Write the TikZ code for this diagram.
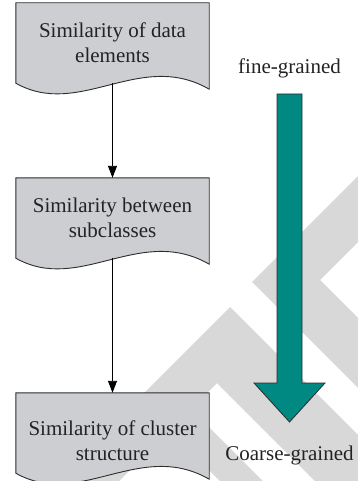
\documentclass[tikz,border=0pt]{standalone}
\usepackage{fontspec}
\setmainfont{Liberation Serif}
\usetikzlibrary{arrows.meta,backgrounds}

\definecolor{boxgray}{RGB}{205,206,210}
\definecolor{arrowteal}{RGB}{0,136,130}
\definecolor{markgray}{RGB}{216,216,216}
\definecolor{edgegray}{RGB}{45,45,45}
\definecolor{textgray}{RGB}{35,35,35}

\tikzset{
  docbox/.style={minimum width=193pt, minimum height=80pt, inner sep=0pt, align=center,
    text=textgray, font=\fontsize{21}{25}\selectfont},
  docline/.style={draw=edgegray, fill=boxgray, line width=0.9pt},
  lbl/.style={inner sep=0pt, text=textgray, font=\fontsize{21}{25}\selectfont},
  flow/.style={line width=0.9pt, -{Triangle[length=12pt,width=9pt]}},
}

% document shape with a wavy bottom, drawn round a node (optional lift)
\newcommand{\docshape}[2][0pt]{%
  \filldraw[docline] ([yshift=#1]#2.south west) -- ([yshift=#1]#2.north west) -- ([yshift=#1]#2.north east)
    -- ([yshift=#1-6pt]#2.south east)
    .. controls ([shift={(124pt,34pt+#1)}]#2.south west) and ([shift={(64pt,-36pt+#1)}]#2.south west)
    .. ([yshift=#1]#2.south west) -- cycle;}

\begin{document}
\begin{tikzpicture}[x=1pt,y=-1pt]
\useasboundingbox (0,0) rectangle (358,481);

\node[docbox] (elem) at (112.5,43) {Similarity of data\\elements};
\node[docbox] (subc) at (112.5,218) {Similarity between\\subclasses};
\node[docbox] (clus) at (112.5,441) {Similarity of cluster\\structure};

\node[lbl] (fine) at (289.5,68) {fine-grained};
\node[lbl] (coarse) at (289.5,455) {Coarse-grained};

\begin{scope}[on background layer]
  % watermark
  \clip (0,0) rectangle (358,481);
  \fill[markgray] (380,154) -- (252,282) -- (380,410) -- (380,340) -- (320,280) -- (380,220) -- cycle;
  \fill[markgray] (37,500) -- (230,307) -- (423,500) -- (334,500) -- (217,383) -- (100,500) -- cycle;
  \fill[markgray] (190,408) -- (320,538) -- (320,581) -- (190,451) -- cycle;
  \docshape{elem}
  \docshape{subc}
  \docshape[8pt]{clus}
\end{scope}

\draw[flow] (elem.south) -- (subc.north);
\draw[flow] (subc.south) -- ([yshift=8pt]clus.north);

% block arrow
\filldraw[draw=edgegray, fill=arrowteal, line width=0.8pt]
  (277,94) -- (302,94) -- (302,383) -- (325,383) -- (289.5,422) -- (254,383) -- (277,383) -- cycle;
\end{tikzpicture}
\end{document}
